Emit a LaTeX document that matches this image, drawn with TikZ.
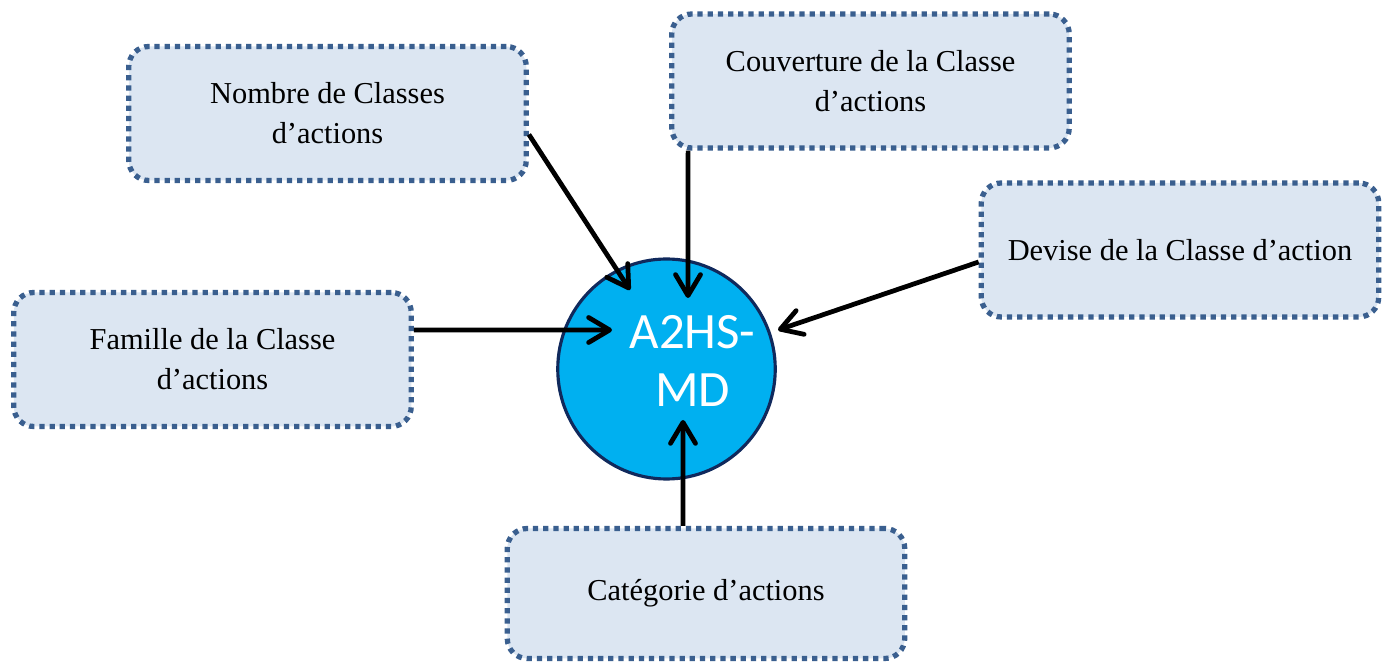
\documentclass[tikz,border=0pt]{standalone}
\usepackage{fontspec}
\setmainfont{Liberation Serif}
\newfontfamily\calibri{Carlito}
\usetikzlibrary{arrows.meta,shapes.geometric}

\definecolor{boxfill}{HTML}{DCE6F2}
\definecolor{boxline}{HTML}{3A5F8F}
\definecolor{corefill}{HTML}{00B0F0}
\definecolor{coreline}{HTML}{10295C}

\tikzset{
  critere/.style={draw=boxline, fill=boxfill, line width=3pt,
    dash pattern=on 3pt off 2.8pt, rounded corners=0.4cm,
    minimum width=7.95cm, minimum height=2.68cm, align=center,
    font=\fontsize{17.3}{22.7}\selectfont},
  coeur/.style={ellipse, draw=coreline, fill=corefill, line width=1.8pt,
    minimum width=4.35cm, minimum height=4.4cm},
  coeurtexte/.style={align=center, text=white, xshift=0.52cm, yshift=0.16cm,
    font=\calibri\fontsize{29}{33}\selectfont},
  fleche/.style={line width=2.7pt, -{Straight Barb[length=4.2mm,width=5mm,round]}}
}

\begin{document}
\begin{tikzpicture}
\useasboundingbox (0,0) rectangle (27.8,13.28);

\node[coeur, label={[coeurtexte]center:A2HS-\\MD}] (core) at (13.33,5.90) {};

\node[critere] (nombre) at (6.55,11.01) {Nombre de Classes\\d’actions};
\node[critere] (couverture) at (17.41,11.66) {Couverture de la Classe\\d’actions};
\node[critere] (devise) at (23.60,8.28) {Devise de la Classe d’action};
\node[critere] (famille) at (4.25,6.09) {Famille de la Classe\\d’actions};
\node[critere, minimum height=2.6cm] (categorie) at (14.12,1.41) {Catégorie d’actions};

\draw[fleche] ([yshift=-0.42cm]nombre.east) -- ([shift={(-0.73,1.58)}]core.center);
\draw[fleche] ([xshift=0.38cm]couverture.south west) -- ([shift={(0.43,1.42)}]core.center);
\draw[fleche] ([yshift=-0.24cm]devise.west) -- ([shift={(2.23,0.78)}]core.center);
\draw[fleche] ([yshift=0.59cm]famille.east) -- ([shift={(-1.09,0.78)}]core.center);
\draw[fleche] ([xshift=-0.46cm]categorie.north) -- ([shift={(0.33,-1.02)}]core.center);
\end{tikzpicture}
\end{document}
